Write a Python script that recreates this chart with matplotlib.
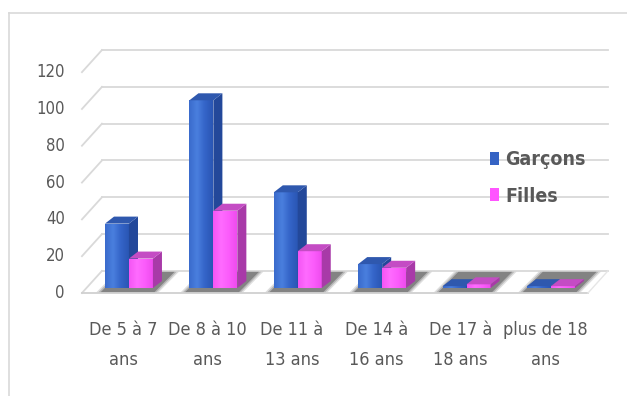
import matplotlib
matplotlib.use("Agg")
import matplotlib.pyplot as plt
from matplotlib.patches import Polygon, Patch
from matplotlib.colors import LinearSegmentedColormap
from matplotlib import font_manager
import numpy as np

# data
categories = ["De 5 à 7\nans", "De 8 à 10\nans", "De 11 à\n13 ans",
              "De 14 à\n16 ans", "De 17 à\n18 ans", "plus de 18\nans"]
garcons = [35, 102, 52, 13, 1, 1]
filles = [16, 42, 20, 11, 2, 1]
yticks = [0, 20, 40, 60, 80, 100, 120]

names = sorted(set((f.name, f.stretch) for f in font_manager.fontManager.ttflist))
print([n for n in names if 'ondens' in str(n) or 'arrow' in str(n) or n[1] != 'normal'])

plt.rcParams['font.family'] = ['DejaVu Sans']
plt.rcParams['font.stretch'] = 'condensed'
txt = '#595959'
grid = '#d9d9d9'

fig = plt.figure(figsize=(6.27, 3.96), dpi=100)
ax = fig.add_axes([0, 0, 1, 1])
ax.set_xlim(-1.457, 5.972)
ax.set_ylim(-55.98, 159.2)
ax.axis('off')

def px(x):
    return (x - 123) / 84.4

def py(y):
    return (293 - y) / 1.84

# fake 3d geometry (depth of the floor and of each bar)
DX, DY = 0.237, 12.0
off, w, b0 = 0.071, 0.284, 2.7
bdx, bdy = 0.107, 3.8
xl_front, xl_back = -0.486, -0.249
xr_front, xr_back = 5.51, 5.746

# outer chart border (top and left)
ax.plot([px(9), px(640)], [py(13), py(13)], color=grid, lw=1.2)
ax.plot([px(9), px(9)], [py(13), py(400)], color=grid, lw=1.2)

# back wall gridlines and left wall slants
for v in yticks:
    ax.plot([xl_back, xr_back], [v + DY, v + DY], color=grid, lw=1.3, zorder=1)
    ax.plot([xl_front, xl_back], [v, v + DY], color=grid, lw=1.3, zorder=1)
    ax.text(-0.687, v, str(v), ha='right', va='center', fontsize=12, color=txt)

# floor front edge
ax.plot([xl_front, xr_front], [0, 0], color='#d0d0d0', lw=1.3, zorder=1)
ax.plot([xr_front, xr_back], [0, DY], color='#e6e6e6', lw=1.0, zorder=1)

# shadows on the floor under each group
for i in range(len(categories)):
    gl = i + off - w - 0.05
    gr = i + off + w + 0.02
    for k, a in [(0.05, 0.2), (0.025, 0.3), (0.0, 0.55)]:
        pts = [(gl - k, 0.5), (gr + k, 0.5), (gr + k + DX, DY - 0.5), (gl - k + DX, DY - 0.5)]
        ax.add_patch(Polygon(pts, closed=True, fc='#5a5a5a', ec='none', alpha=a, zorder=2))

cm_g = LinearSegmentedColormap.from_list('g', ['#3a6bcc', '#4a7fde', '#3464c8', '#2a56b4'])
cm_f = LinearSegmentedColormap.from_list('f', ['#f455f4', '#ff6bff', '#fb5cfb', '#ee4cee'])
grad = np.linspace(0, 1, 64).reshape(1, -1)

def bar3d(x0, h, cmap, side, top, z):
    b = ax.bar(x0, h, width=w, bottom=b0, align='edge', color=cmap(0.5),
               linewidth=0, zorder=z)[0]
    im = ax.imshow(grad, cmap=cmap, aspect='auto', extent=(x0, x0 + w, b0, b0 + h),
                   zorder=z + 0.01)
    im.set_clip_path(b)
    sp = [(x0 + w, b0), (x0 + w + bdx, b0 + bdy), (x0 + w + bdx, b0 + h + bdy), (x0 + w, b0 + h)]
    tp = [(x0, b0 + h), (x0 + w, b0 + h), (x0 + w + bdx, b0 + h + bdy), (x0 + bdx, b0 + h + bdy)]
    ax.add_patch(Polygon(sp, closed=True, fc=side, ec='none', zorder=z + 0.02))
    ax.add_patch(Polygon(tp, closed=True, fc=top, ec='none', zorder=z + 0.03))

for i in range(len(categories)):
    bar3d(i + off - w, garcons[i], cm_g, '#23489a', '#2f58ae', 3 + i)
    bar3d(i + off, filles[i], cm_f, '#a83aa8', '#c44cc4', 3.5 + i)
    ax.text(i, py(345), categories[i], ha='center', va='center', fontsize=13,
            color=txt, linespacing=1.8)

ax.set_xlim(-1.457, 5.972)
ax.set_ylim(-55.98, 159.2)

handles = [Patch(fc='#3563c4', ec='none'), Patch(fc='#ff55ff', ec='none')]
ax.legend(handles, ['Garçons', 'Filles'], loc='center left',
          bbox_to_anchor=(490 / 627, 1 - 178 / 396), frameon=False,
          handlelength=0.45, handleheight=0.65, handletextpad=0.35,
          labelspacing=0.9, borderpad=0, borderaxespad=0,
          prop={'size': 14, 'weight': 'bold', 'stretch': 'condensed'}, labelcolor=txt)

fig.savefig('out.png', dpi=100)
